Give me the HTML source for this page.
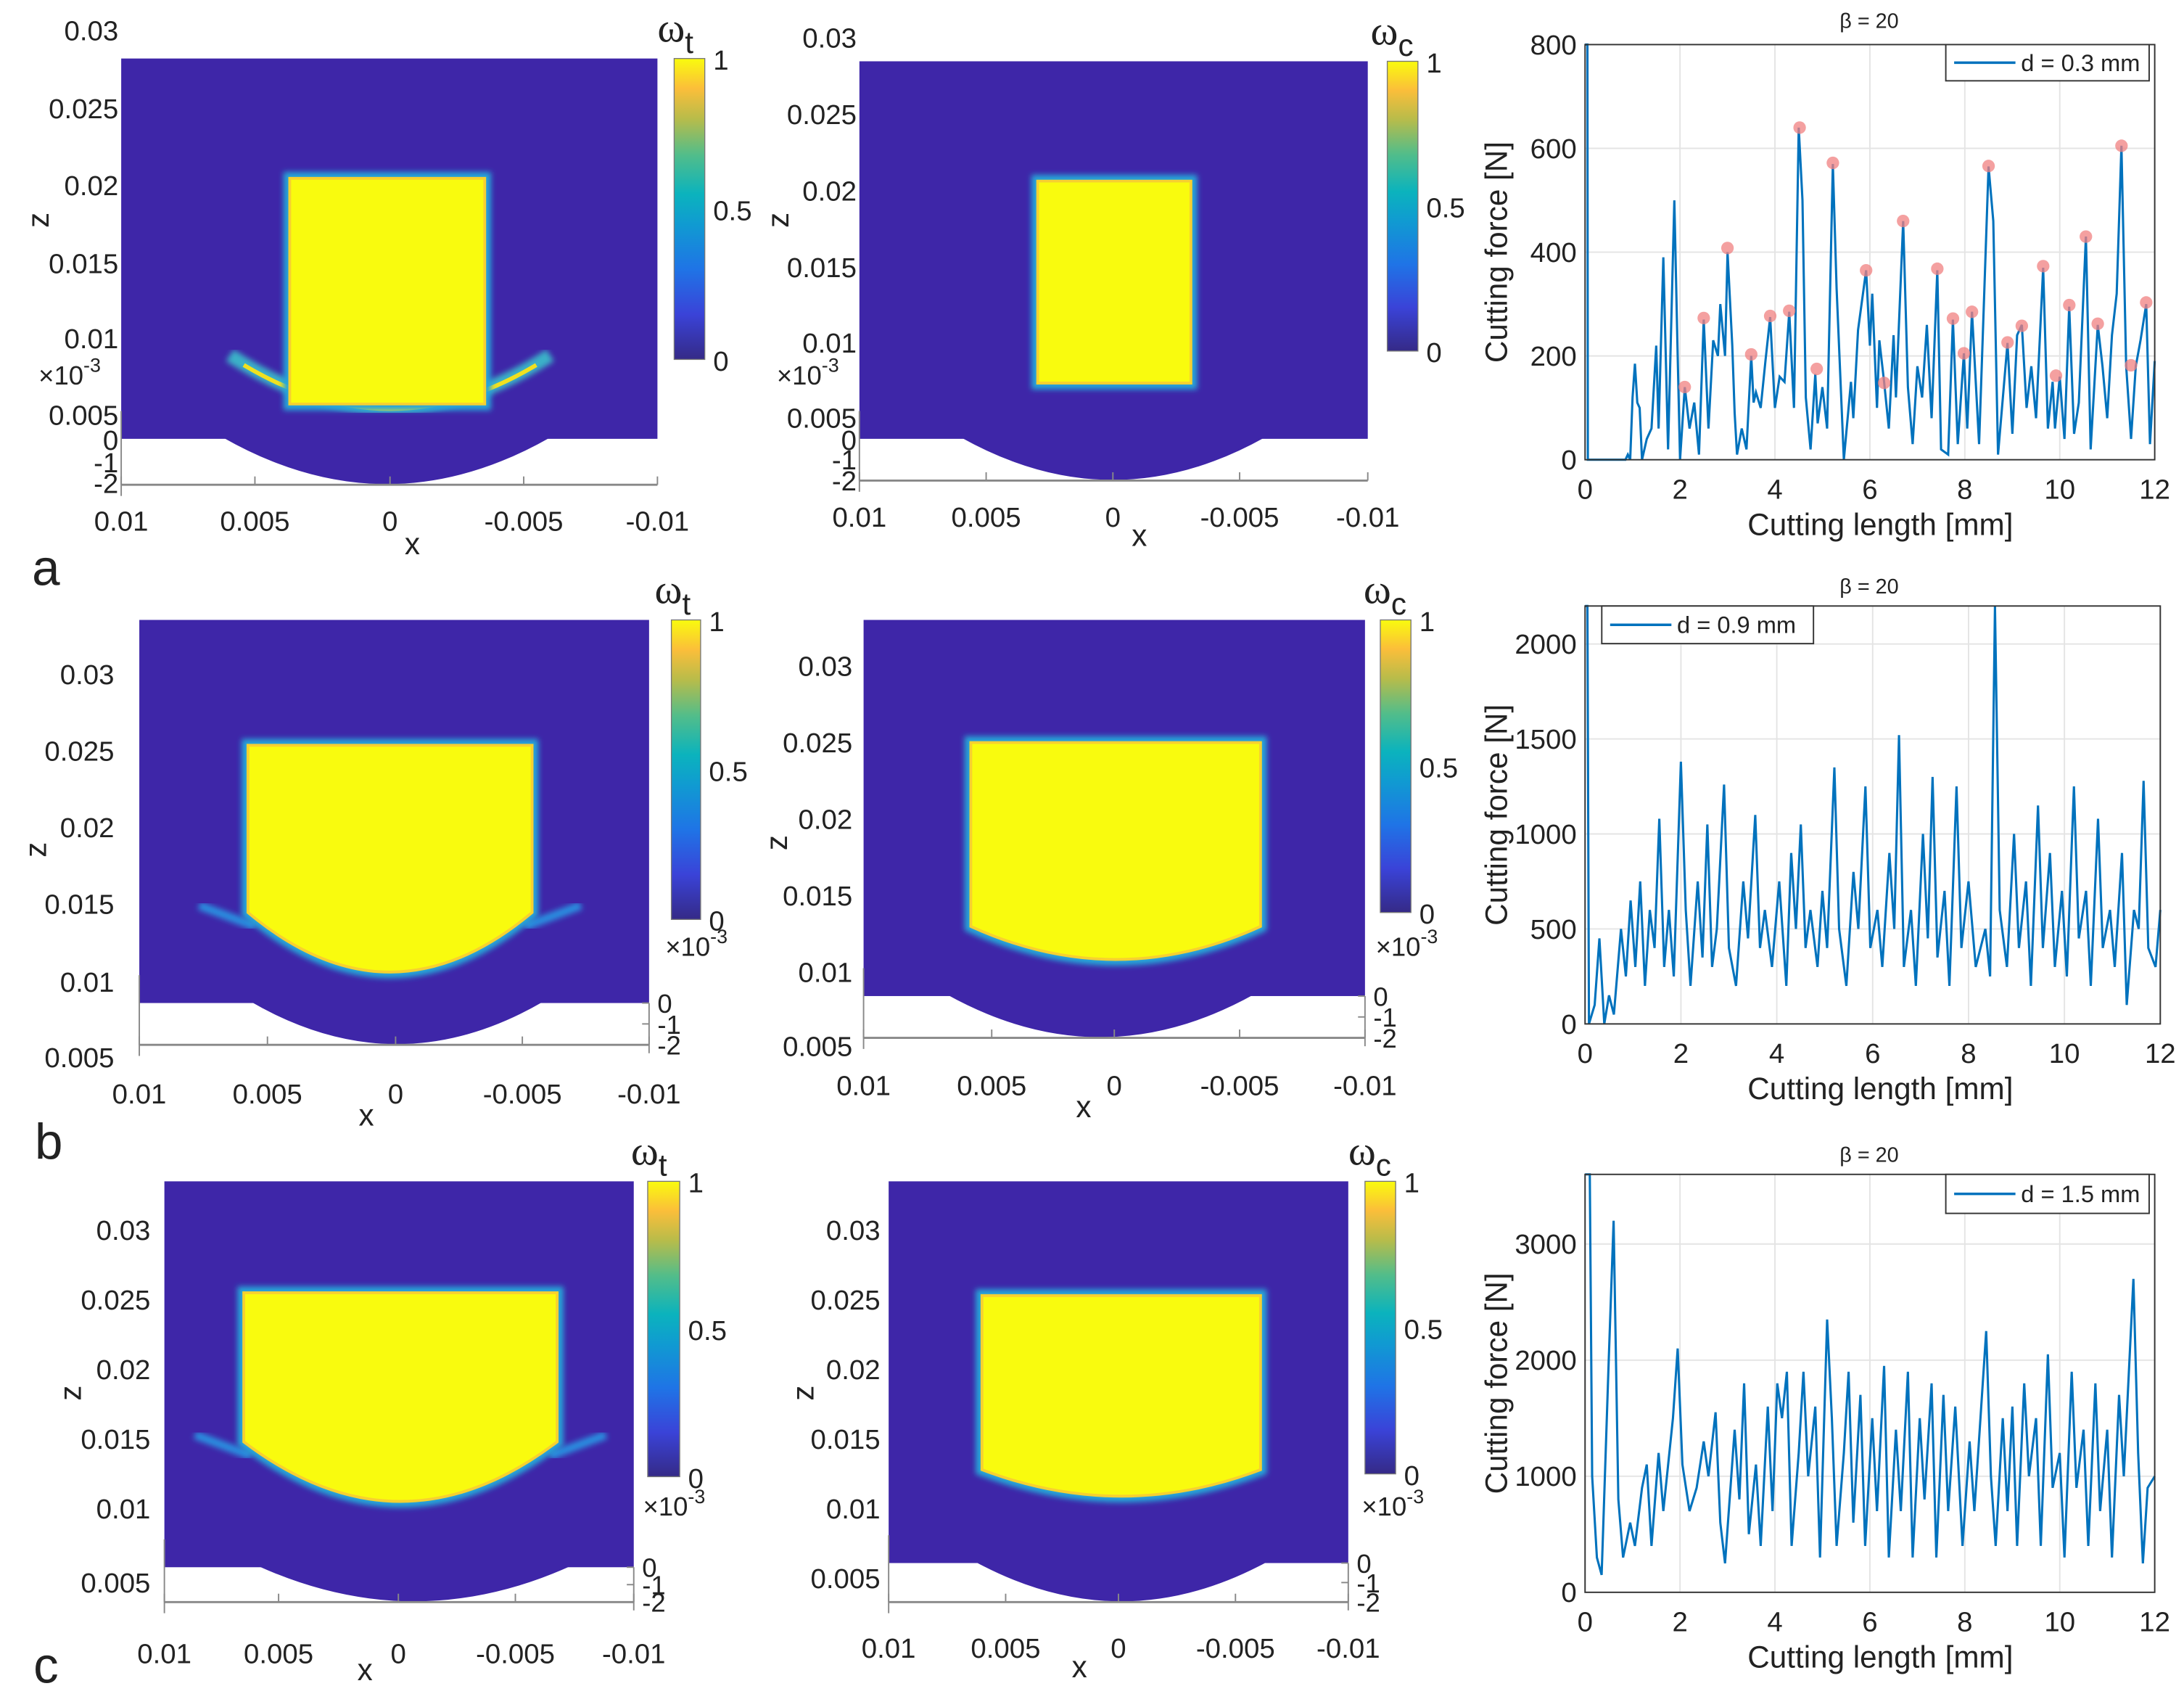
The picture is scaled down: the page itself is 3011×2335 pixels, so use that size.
<!DOCTYPE html>
<html><head><meta charset="utf-8"><style>
html,body{margin:0;padding:0;background:#fff;}
svg{display:block;font-family:"Liberation Sans",Arial,sans-serif;}
</style></head><body>
<svg id="fig" width="3011" height="2335" viewBox="0 0 1568 1216" xmlns="http://www.w3.org/2000/svg">
<defs>
<linearGradient id="parula" x1="0" y1="1" x2="0" y2="0">
<stop offset="0" stop-color="#352a87"/><stop offset="0.15" stop-color="#3a43d8"/><stop offset="0.3" stop-color="#1f74e6"/><stop offset="0.45" stop-color="#109bd1"/><stop offset="0.55" stop-color="#0bb3bd"/><stop offset="0.68" stop-color="#52bd8a"/><stop offset="0.8" stop-color="#b8bc4a"/><stop offset="0.9" stop-color="#fbbe3a"/><stop offset="1" stop-color="#f9fb0e"/>
</linearGradient>
<filter id="soft"><feGaussianBlur stdDeviation="2"/></filter>
</defs>
<g id="root"></g>
</svg>
<script>
var NS="http://www.w3.org/2000/svg";
var root=document.getElementById('root');
function mk(tag,attrs,parent){var e=document.createElementNS(NS,tag);for(var k in attrs)e.setAttribute(k,attrs[k]);(parent||root).appendChild(e);return e;}
function txt(x,y,s,size,anchor,parent){var t=mk('text',{x:x,y:y,'font-size':size,'text-anchor':anchor||'middle',fill:'#222'},parent);t.textContent=s;return t;}

// ---------- contour panels ----------
var contourPanels=[
 {id:'a-omega-t',L:87,R:472,T:42,Z0:315,B:348,s1:160,s2:395,yl:208,yr:348,yt:128,yb:290,curve:0,arc:1,cb:[484,506,42,258],sym:'t',
  zl:[['0.03',22],['0.025',78],['0.02',133],['0.015',189],['0.01',243],['0.005',298],['0',316],['-1',332],['-2',347]],zx:85,
  xl:[['0.01',87],['0.005',183],['0',280],['-0.005',376],['-0.01',472]],xy:381,xlab:[296,398],zlab:[35,158],e3:[50,276]},
 {id:'a-omega-c',L:617,R:982,T:44,Z0:315,B:345,s1:690,s2:908,yl:745,yr:855,yt:130,yb:275,curve:0,arc:0,cb:[996,1018,44,252],sym:'c',
  zl:[['0.03',27],['0.025',82],['0.02',137],['0.015',192],['0.01',246],['0.005',300],['0',316],['-1',330],['-2',345]],zx:615,
  xl:[['0.01',617],['0.005',708],['0',799],['-0.005',890],['-0.01',982]],xy:378,xlab:[818,392],zlab:[566,158],e3:[580,276]},
 {id:'b-omega-t',L:100,R:466,T:445,Z0:720,B:750,s1:180,s2:390,yl:178,yr:382,yt:535,yb:700,curve:45,arc:0,wings:1,cb:[482,503,445,660],sym:'t',
  zl:[['0.03',484],['0.025',539],['0.02',594],['0.015',649],['0.01',705],['0.005',759]],zx:82,rz:1,
  xl:[['0.01',100],['0.005',192],['0',284],['-0.005',375],['-0.01',466]],xy:792,xlab:[263,808],zlab:[33,610],e3:[500,686]},
 {id:'b-omega-c',L:620,R:980,T:445,Z0:715,B:745,s1:680,s2:900,yl:697,yr:905,yt:533,yb:690,curve:25,arc:0,cb:[991,1013,445,655],sym:'c',
  zl:[['0.03',478],['0.025',533],['0.02',588],['0.015',643],['0.01',698],['0.005',751]],zx:612,rz:1,
  xl:[['0.01',620],['0.005',712],['0',800],['-0.005',890],['-0.01',980]],xy:786,xlab:[778,802],zlab:[565,605],e3:[1010,686]},
 {id:'c-omega-t',L:118,R:455,T:848,Z0:1125,B:1150,s1:185,s2:410,yl:175,yr:400,yt:928,yb:1080,curve:45,arc:0,wings:1,cb:[465,488,848,1060],sym:'t',
  zl:[['0.03',883],['0.025',933],['0.02',983],['0.015',1033],['0.01',1083],['0.005',1136]],zx:108,rz:1,
  xl:[['0.01',118],['0.005',200],['0',286],['-0.005',370],['-0.01',455]],xy:1194,xlab:[262,1206],zlab:[58,1000],e3:[484,1088]},
 {id:'c-omega-c',L:638,R:968,T:848,Z0:1122,B:1150,s1:700,s2:910,yl:705,yr:905,yt:930,yb:1075,curve:20,arc:0,cb:[980,1002,848,1058],sym:'c',
  zl:[['0.03',883],['0.025',933],['0.02',983],['0.015',1033],['0.01',1083],['0.005',1133]],zx:632,rz:1,
  xl:[['0.01',638],['0.005',722],['0',803],['-0.005',887],['-0.01',968]],xy:1190,xlab:[775,1204],zlab:[584,1000],e3:[1000,1088]}
];
contourPanels.forEach(function(p){
  var g=mk('g',{});
  
  
  var bg=mk('rect',{x:p.L,y:p.T,width:p.R-p.L,height:p.Z0-p.T,fill:'#3e26a8'},g);
  
  
  var mid=(p.s1+p.s2)/2, dep=p.B-p.Z0;
  var seg=mk('path',{d:'M'+p.s1+','+(p.Z0-1)+' Q'+mid+','+(p.B+dep)+' '+p.s2+','+(p.Z0-1)+' Z',fill:'#3e26a8'},g);
  
  
  if(p.wings){
    mk('path',{d:'M'+(p.yl-35)+','+(p.yb-50)+' L'+(p.yl+5)+','+(p.yb-35)+' M'+(p.yr+35)+','+(p.yb-50)+' L'+(p.yr-5)+','+(p.yb-35),stroke:'#2c8fe0','stroke-width':6,fill:'none',filter:'url(#soft)'},g);
  }
  if(p.arc){
    mk('path',{d:'M165,255 Q280,330 395,255',stroke:'#3ab0c8','stroke-width':10,fill:'none',filter:'url(#soft)'},g);
    mk('path',{d:'M175,262 Q280,325 385,262',stroke:'#f0e020','stroke-width':3,fill:'none'},g);
  }
  var cy=p.yb-p.curve;
  var d='M'+p.yl+','+p.yt+' L'+p.yr+','+p.yt+' L'+p.yr+','+cy+' Q'+((p.yl+p.yr)/2)+','+(p.yb+p.curve*0.9)+' '+p.yl+','+cy+' Z';
  mk('path',{d:d,fill:'none',stroke:'#27a6d8','stroke-width':9,filter:'url(#soft)'},g);
  var dmg=mk('path',{d:d,fill:'#f9fb0e',stroke:'#f7d030','stroke-width':2},g);
  
  
  // axes
  mk('line',{x1:p.L,y1:p.B,x2:p.R,y2:p.B,stroke:'#888','stroke-width':1.5},g);
  mk('line',{x1:p.L,y1:p.Z0-20,x2:p.L,y2:p.B+8,stroke:'#888','stroke-width':1},g);
  p.xl.forEach(function(t){mk('line',{x1:t[1],y1:p.B,x2:t[1],y2:p.B-6,stroke:'#888'},g);
    var e=txt(t[1],p.xy,t[0],20,'middle',g);
    
    });
  p.zl.forEach(function(t,i){
    var rz=p.rz&&i>=0;
    var e=txt(p.zx,t[1]+7,t[0],20,'end',g);
    
    });
  if(p.rz){['0','-1','-2'].forEach(function(s,i){var y=p.Z0+i*(p.B-p.Z0)/2;
    mk('line',{x1:p.R,y1:y,x2:p.R-5,y2:y,stroke:'#888'},g);
    var e=txt(p.R+6,y+7,s,19,'start',g);
    
    });
    mk('line',{x1:p.R,y1:p.Z0,x2:p.R,y2:p.B+6,stroke:'#888'},g);}
  var xl=txt(p.xlab[0],p.xlab[1],'x',22,'middle',g);
  
  
  var zl=txt(p.zlab[0],p.zlab[1],'z',22,'middle',g);
  zl.setAttribute('transform','rotate(-90 '+p.zlab[0]+' '+p.zlab[1]+')');
  
  
  var e3=mk('text',{x:p.e3[0],y:p.e3[1],'font-size':19,'text-anchor':'middle',fill:'#222'},g);
  e3.textContent='×10';
  var sp=mk('tspan',{dy:-9,'font-size':14},e3);sp.textContent='-3';
  
  
  // colorbar
  var c=p.cb;
  var cb=mk('rect',{x:c[0],y:c[2],width:c[1]-c[0],height:c[3]-c[2],fill:'url(#parula)',stroke:'#777','stroke-width':0.7},g);
  
  
  [['1',c[2]],['0.5',(c[2]+c[3])/2],['0',c[3]]].forEach(function(t){
    var e=txt(c[1]+6,t[1]+8,t[0],20,'start',g);
    
    });
  var om=mk('text',{x:c[0]-12,y:c[2]-12,'font-size':30,'font-family':'"Liberation Serif",serif',fill:'#222'},g);
  om.textContent='ω';
  var sub=mk('tspan',{dy:8,'font-size':22,'font-family':'"Liberation Sans",sans-serif'},om);sub.textContent=p.sym;
  
  
});
[['a',33,420],['b',35,832],['c',33,1208]].forEach(function(l){
  var e=txt(l[1],l[2],l[0],36,'middle');
  
  
});

// ---------- force charts ----------
var forceXA=[0,0.02,0.05,0.06,0.85,0.9,0.95,1.0,1.05,1.1,1.15,1.2,1.3,1.4,1.5,1.55,1.65,1.75,1.88,1.95,2.0,2.1,2.2,2.3,2.4,2.5,2.6,2.7,2.8,2.85,2.95,3.0,3.1,3.15,3.2,3.3,3.4,3.5,3.55,3.6,3.7,3.8,3.9,4.0,4.1,4.2,4.3,4.4,4.5,4.58,4.65,4.75,4.85,4.9,5.0,5.1,5.22,5.3,5.45,5.6,5.65,5.75,5.92,6.0,6.05,6.15,6.2,6.3,6.4,6.5,6.55,6.7,6.8,6.9,7.0,7.1,7.2,7.3,7.42,7.5,7.65,7.75,7.85,7.98,8.05,8.15,8.3,8.5,8.6,8.7,8.9,9.0,9.1,9.2,9.3,9.4,9.5,9.65,9.75,9.85,9.9,10.0,10.1,10.2,10.3,10.4,10.55,10.65,10.8,10.9,11.0,11.1,11.2,11.3,11.4,11.5,11.6,11.7,11.82,11.9,12.0];
var forceYA=[800,800,800,0,0,10,0,120,185,110,100,0,40,60,220,60,390,20,500,200,0,140,60,110,10,270,60,230,200,300,200,400,220,90,10,60,20,200,110,130,100,190,275,100,160,150,285,100,640,500,120,20,165,70,140,60,570,330,0,150,80,250,365,220,320,100,230,150,60,240,120,460,140,30,180,120,260,80,365,20,10,270,30,205,60,285,30,565,460,10,225,50,240,260,100,180,80,370,60,150,60,160,40,295,50,110,430,20,260,180,80,240,320,605,180,40,180,230,300,30,190];
var peakXA=[2.1,2.5,3.0,3.5,3.9,4.3,4.52,4.88,5.22,5.92,6.3,6.7,7.42,7.75,7.98,8.15,8.5,8.9,9.2,9.65,9.92,10.2,10.55,10.8,11.3,11.5,11.82];
var peakYA=[140,273,408,203,277,287,640,175,572,365,148,460,368,272,205,285,566,226,258,373,162,298,430,262,605,182,303];
var forceXB=[0,0.02,0.05,0.08,0.2,0.3,0.4,0.5,0.6,0.75,0.85,0.95,1.05,1.15,1.25,1.35,1.45,1.55,1.65,1.75,1.85,2.0,2.1,2.2,2.35,2.45,2.55,2.65,2.75,2.9,3.0,3.15,3.3,3.4,3.55,3.65,3.75,3.9,4.05,4.2,4.3,4.4,4.5,4.6,4.7,4.85,4.95,5.05,5.2,5.3,5.45,5.6,5.7,5.85,5.95,6.1,6.2,6.35,6.45,6.55,6.65,6.8,6.9,7.05,7.15,7.25,7.35,7.5,7.6,7.75,7.85,8.0,8.15,8.35,8.45,8.55,8.65,8.8,8.95,9.05,9.2,9.3,9.45,9.55,9.7,9.8,9.95,10.05,10.2,10.3,10.45,10.55,10.7,10.8,10.95,11.05,11.2,11.3,11.45,11.55,11.65,11.75,11.9,12.0];
var forceYB=[2200,2200,2200,0,100,450,0,150,50,500,250,650,300,750,200,600,400,1080,300,600,250,1380,600,200,750,350,1050,300,500,1260,400,200,750,450,1100,400,600,300,750,200,900,500,1050,400,600,300,700,400,1350,500,200,800,500,1250,400,600,300,900,500,1520,300,600,200,1000,450,1300,350,700,200,1250,400,750,300,500,250,2200,600,300,1000,400,750,200,1150,400,900,300,700,250,1250,450,700,200,1080,400,600,300,900,100,600,500,1280,400,300,600];
var forceXC=[0,0.05,0.1,0.15,0.25,0.35,0.5,0.6,0.7,0.8,0.95,1.05,1.2,1.3,1.4,1.55,1.65,1.85,1.95,2.05,2.2,2.35,2.5,2.6,2.75,2.85,2.95,3.15,3.25,3.35,3.45,3.6,3.7,3.85,3.95,4.05,4.15,4.25,4.35,4.5,4.6,4.7,4.85,4.95,5.1,5.2,5.3,5.45,5.55,5.65,5.8,5.9,6.05,6.15,6.3,6.4,6.55,6.65,6.8,6.9,7.05,7.15,7.3,7.4,7.55,7.65,7.8,7.95,8.1,8.2,8.45,8.55,8.65,8.8,8.9,9.0,9.1,9.25,9.35,9.5,9.6,9.75,9.85,10.0,10.1,10.25,10.35,10.5,10.6,10.75,10.85,11.0,11.1,11.25,11.35,11.55,11.65,11.75,11.85,12.0];
var forceYC=[3600,3600,3600,1000,300,150,2000,3200,800,300,600,400,900,1100,400,1200,700,1500,2100,1100,700,900,1300,1000,1550,600,250,1400,800,1800,500,1100,400,1600,700,1800,1500,1900,400,1200,1900,1000,1600,300,2350,1500,400,1200,1900,600,1700,400,1500,700,1950,300,1400,700,1900,300,1500,800,1800,300,1700,700,1600,400,1300,700,2250,1000,400,1500,700,1600,400,1800,1000,1500,400,2050,900,1200,300,1900,900,1400,400,1800,700,1400,300,1700,1000,2700,1200,250,900,1000];
var xTicks=[0,2,4,6,8,10,12];
var yTicksA=[0,200,400,600,800];
var yTicksB=[0,500,1000,1500,2000];
var yTicksC=[0,1000,2000,3000];
var legendA='d = 0.3 mm', legendB='d = 0.9 mm', legendC='d = 1.5 mm';

var charts=[
 {id:'force-chart-a',L:1138,R:1547,T:32,B:330,ymax:800,xs:forceXA,ys:forceYA,yt:yTicksA,leg:legendA,legBox:[1397,32,146,26],px:peakXA,py:peakYA,title:14},
 {id:'force-chart-b',L:1138,R:1551,T:435,B:735,ymax:2200,xs:forceXB,ys:forceYB,yt:yTicksB,leg:legendB,legBox:[1150,435,152,27],title:420},
 {id:'force-chart-c',L:1138,R:1547,T:843,B:1143,ymax:3600,xs:forceXC,ys:forceYC,yt:yTicksC,leg:legendC,legBox:[1397,843,146,28],title:828}
];
charts.forEach(function(c){
  var g=mk('g',{});
  
  
  function sx(v){return c.L+(c.R-c.L)*v/12;}
  function sy(v){return c.B-(c.B-c.T)*v/c.ymax;}
  mk('rect',{x:c.L,y:c.T,width:c.R-c.L,height:c.B-c.T,fill:'#fff'},g);
  xTicks.forEach(function(t){
    mk('line',{x1:sx(t),y1:c.T,x2:sx(t),y2:c.B,stroke:'#e4e4e4','stroke-width':1},g);
    var e=txt(sx(t),c.B+28,String(t),20,'middle',g);
    
    
  });
  c.yt.forEach(function(t){
    mk('line',{x1:c.L,y1:sy(t),x2:c.R,y2:sy(t),stroke:'#e4e4e4','stroke-width':1},g);
    var e=txt(c.L-6,sy(t)+7,String(t),20,'end',g);
    
    
  });
  var pts=c.xs.map(function(x,i){return sx(x).toFixed(1)+','+sy(c.ys[i]).toFixed(1);}).join(' ');
  var line=mk('polyline',{points:pts,fill:'none',stroke:'#0072bd','stroke-width':1.6},g);
  
  
  if(c.px){c.px.forEach(function(x,i){
    var m=mk('circle',{cx:sx(x),cy:sy(c.py[i]),r:4.5,fill:'#f08080','fill-opacity':0.75},g);
    
    
  });}
  mk('rect',{x:c.L,y:c.T,width:c.R-c.L,height:c.B-c.T,fill:'none',stroke:'#333','stroke-width':1},g);
  var t=mk('text',{x:1342,y:c.title+6,'font-size':15,'text-anchor':'middle',fill:'#222'},g);
  t.textContent='β = 20';
  
  
  var xl=txt(1350,c.B+54,'Cutting length  [mm]',22,'middle',g);
  
  
  var yc=(c.T+c.B)/2;
  var yl=txt(1082,yc,'Cutting force [N]',22,'middle',g);
  yl.setAttribute('transform','rotate(-90 1082 '+yc+')');
  
  
  var lb=c.legBox;
  var lg=mk('g',{},g);
  
  
  mk('rect',{x:lb[0],y:lb[1],width:lb[2],height:lb[3],fill:'#fff',stroke:'#333','stroke-width':1},lg);
  mk('line',{x1:lb[0]+6,y1:lb[1]+lb[3]/2,x2:lb[0]+50,y2:lb[1]+lb[3]/2,stroke:'#0072bd','stroke-width':1.8},lg);
  var le=txt(lb[0]+54,lb[1]+lb[3]/2+6,c.leg,17,'start',lg);
  
  
});
</script>
</body></html>
